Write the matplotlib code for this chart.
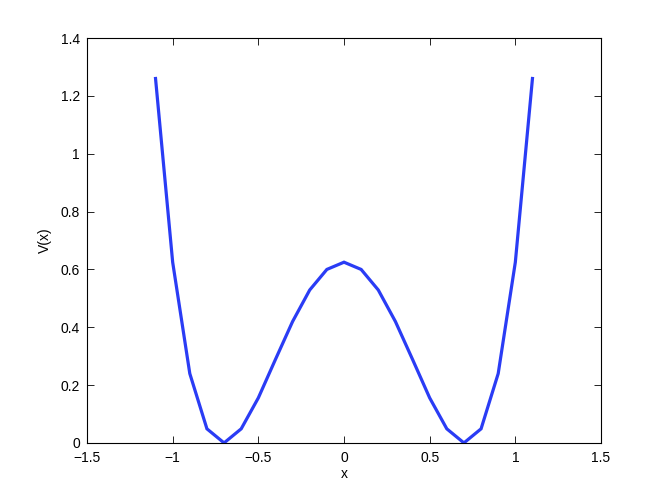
import matplotlib
matplotlib.use("Agg")
import matplotlib.pyplot as plt

x = [-1.1, -1.0, -0.9, -0.8, -0.7, -0.6, -0.5, -0.4, -0.3, -0.2, -0.1, 0.0,
     0.1, 0.2, 0.3, 0.4, 0.5, 0.6, 0.7, 0.8, 0.9, 1.0, 1.1]
v = [1.260, 0.625, 0.240, 0.049, 0.0003, 0.049, 0.156, 0.289, 0.420, 0.529, 0.600, 0.625,
     0.600, 0.529, 0.420, 0.289, 0.156, 0.049, 0.0003, 0.049, 0.240, 0.625, 1.260]
xticks = [-1.5, -1, -0.5, 0, 0.5, 1, 1.5]
xtick_labels = ["\u22121.5", "\u22121", "\u22120.5", "0", "0.5", "1", "1.5"]
yticks = [0, 0.2, 0.4, 0.6, 0.8, 1, 1.2, 1.4]
ytick_labels = ["0", "0.2", "0.4", "0.6", "0.8", "1", "1.2", "1.4"]

plt.rcParams['font.family'] = ['Liberation Sans', 'DejaVu Sans']
fig = plt.figure(figsize=(6.64, 5.0), dpi=100)
ax = fig.add_axes([87/664, 57/500, (601-87)/664, (443-38)/500])
ax.plot(x, v, color='#2a3cf5', linewidth=2.3, solid_joinstyle='miter')
ax.set_xlim(-1.5, 1.5)
ax.set_ylim(0, 1.4)
ax.set_xticks(xticks)
ax.set_xticklabels(xtick_labels)
ax.set_yticks(yticks)
ax.set_yticklabels(ytick_labels)
ax.tick_params(direction='in', top=True, right=True, length=5, width=0.6, labelsize=10)
ax.tick_params(axis='x', pad=6)
ax.tick_params(axis='y', pad=5)
for s in ax.spines.values():
    s.set_linewidth(0.8)
ax.set_xlabel('x', fontsize=10, labelpad=1)
ax.set_ylabel('V(x)', fontsize=10, labelpad=6)
fig.savefig('out.png', dpi=100)
